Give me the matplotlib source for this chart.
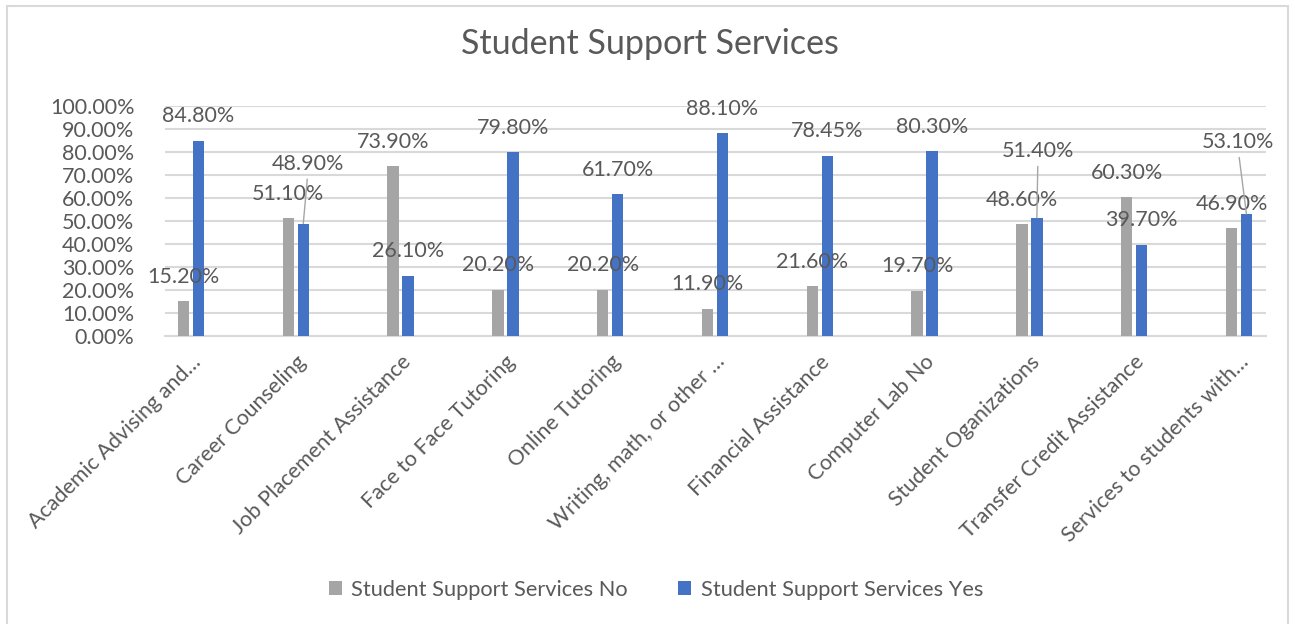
import matplotlib
matplotlib.use("Agg")
import matplotlib.pyplot as plt
from matplotlib.patches import Rectangle, Patch
from matplotlib.transforms import ScaledTranslation
import numpy as np

categories = ["Academic Advising and\u2026", "Career Counseling", "Job Placement Assistance",
              "Face to Face Tutoring", "Online Tutoring", "Writing, math, or other \u2026",
              "Financial Assistance", "Computer Lab No", "Student Oganizations",
              "Transfer Credit Assistance", "Services to students with\u2026"]
no_vals = [15.2, 51.1, 73.9, 20.2, 20.2, 11.9, 21.6, 19.7, 48.6, 60.3, 46.9]
yes_vals = [84.8, 48.9, 26.1, 79.8, 61.7, 88.1, 78.45, 80.3, 51.4, 39.7, 53.1]
series_names = ["Student Support Services No", "Student Support Services Yes"]
y_ticks = [0, 10, 20, 30, 40, 50, 60, 70, 80, 90, 100]

GRAY = "#A5A5A5"
BLUE = "#4472C4"
TXT = "#595959"
GRID = "#D9D9D9"
FONT = ["Lato", "DejaVu Sans"]

plt.rcParams["font.family"] = FONT

W, H = 1295, 624
fig = plt.figure(figsize=(W / 100, H / 100), dpi=100)
fig.patch.set_facecolor("white")

# chart frame
fig.add_artist(Rectangle((7 / W, 1 - 630 / H), (1288 - 7) / W, (630 - 6) / H,
                         transform=fig.transFigure, fill=False, edgecolor=GRID, lw=1.5))

ax = fig.add_axes([165 / W, 1 - 336 / H, (1266 - 165) / W, (336 - 106) / H])
x = np.arange(len(categories))
bw = 0.11
off = 0.0715
ax.bar(x - off, no_vals, width=bw, color=GRAY, zorder=3)
ax.bar(x + off, yes_vals, width=bw, color=BLUE, zorder=3)

ax.set_xlim(-0.248, 10.258)
ax.set_ylim(0, 100)
ax.set_yticks(y_ticks)
ax.set_yticklabels([f"{t:.2f}%" for t in y_ticks])
ax.yaxis.grid(True, color=GRID, lw=1.5, zorder=0)
ax.set_axisbelow(True)
for s in ["top", "right", "left"]:
    ax.spines[s].set_visible(False)
ax.spines["bottom"].set_color(GRID)
ax.spines["bottom"].set_linewidth(1.5)
ax.tick_params(axis="both", length=0, colors=TXT)
ax.tick_params(axis="y", pad=22, labelsize=15.5)
ax.set_xticks(x)
ax.set_xticklabels(categories, rotation=45, ha="right", va="center",
                   rotation_mode="anchor", fontsize=15.5, color=TXT)
ax.tick_params(axis="x", pad=12)
shift = ScaledTranslation(7 / 100, -6 / 100, fig.dpi_scale_trans)
for lab in ax.get_xticklabels():
    lab.set_transform(lab.get_transform() + shift)

# data labels
moved_yes = {1: (4.5, 54), 8: (1, 61), 10: (-8, 66)}
for i, v in enumerate(no_vals):
    ax.annotate(f"{v:.2f}%", xy=(x[i] - off, v), xytext=(0, 18.5),
                textcoords="offset pixels", ha="center", va="baseline",
                fontsize=15.5, color=TXT, zorder=5)
for i, v in enumerate(yes_vals):
    if i in moved_yes:
        dx, dy = moved_yes[i]
        ax.annotate(f"{v:.2f}%", xy=(x[i] + off, v), xytext=(dx, dy),
                    textcoords="offset pixels", ha="center", va="baseline",
                    fontsize=15.5, color=TXT, zorder=5,
                    arrowprops=dict(arrowstyle="-", color="#A6A6A6", lw=1,
                                    shrinkA=2, shrinkB=0, relpos=(0.5, 0)))
    else:
        ax.annotate(f"{v:.2f}%", xy=(x[i] + off, v), xytext=(0, 18.5),
                    textcoords="offset pixels", ha="center", va="baseline",
                    fontsize=15.5, color=TXT, zorder=5)

fig.text(650 / W, 1 - 44 / H, "Student Support Services", ha="center", va="center",
         fontsize=24.5, color=TXT)

handles = [Patch(facecolor=GRAY, edgecolor="none"), Patch(facecolor=BLUE, edgecolor="none")]
fig.legend(handles, series_names, loc="center", bbox_to_anchor=(656 / W, 1 - 590 / H),
           ncol=2, frameon=False, fontsize=15.7, labelcolor=TXT,
           handlelength=0.6, handleheight=0.6, handletextpad=0.45, columnspacing=2.3)

fig.savefig("out.png", dpi=100)
